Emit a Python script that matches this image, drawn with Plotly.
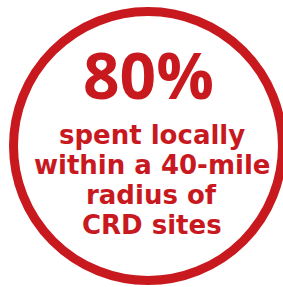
import plotly.graph_objects as go

# Data
headline_value = "80%"
label_lines = ["spent locally", "within a 40-mile", "radius of", "CRD sites"]

RED = "#C8191F"
W, H = 283, 287

fig = go.Figure()

# Ring
cx, cy, r = 148, 146, 134.5
fig.add_shape(type="circle", xref="x", yref="y",
              x0=cx - r, x1=cx + r, y0=cy - r, y1=cy + r,
              line=dict(color=RED, width=9), fillcolor="rgba(0,0,0,0)")

fig.add_annotation(x=148, y=74, xref="x", yref="y", text=headline_value,
                   showarrow=False, xanchor="center", yanchor="middle",
                   font=dict(family="Open Sans", size=64, color=RED, weight="bold"))

line_y = [135, 164.5, 194.5, 225]
for txt, yy in zip(label_lines, line_y):
    fig.add_annotation(x=151.5, y=yy, xref="x", yref="y", text=txt,
                       showarrow=False, xanchor="center", yanchor="middle",
                       font=dict(family="DejaVu Sans", size=26, color=RED, weight="bold"))

fig.update_xaxes(range=[0, W], visible=False, fixedrange=True)
fig.update_yaxes(range=[H, 0], visible=False, fixedrange=True)
fig.update_layout(width=W, height=H, margin=dict(l=0, r=0, t=0, b=0),
                  paper_bgcolor="white", plot_bgcolor="white", showlegend=False)

fig.write_html("out.html", config={"displayModeBar": False, "staticPlot": True},
               post_script="document.body.style.margin='0';document.body.style.overflow='hidden';")
